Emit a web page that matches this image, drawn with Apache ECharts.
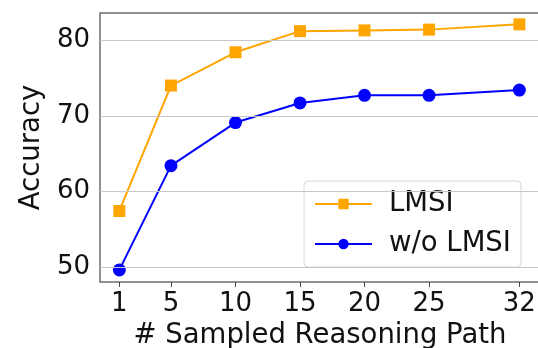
<!DOCTYPE html>
<html>
<head>
<meta charset="utf-8">
<script src="https://cdn.jsdelivr.net/npm/echarts@6/dist/echarts.min.js"></script>
<style>html,body{margin:0;padding:0;background:#fff;}#c{width:538px;height:348px;}</style>
</head>
<body>
<div id="c"></div>
<script>
var xTicks = [1, 5, 10, 15, 20, 25, 32];
var yTicks = [50, 60, 70, 80];
var seriesNames = ['LMSI', 'w/o LMSI'];
var lmsi = [57.4, 74.0, 78.4, 81.2, 81.3, 81.4, 82.1];
var woLmsi = [49.6, 63.4, 69.1, 71.7, 72.7, 72.7, 73.4];

function pairs(xs, ys) { return xs.map(function (x, i) { return [x, ys[i]]; }); }

var font = 'DejaVu Sans';
var chart = echarts.init(document.getElementById('c'), null, {renderer: 'canvas'});
chart.setOption({
  animation: false,
  backgroundColor: '#fff',
  textStyle: {fontFamily: font},
  grid: {left: 100, right: -2, top: 13, bottom: 66, show: true, borderColor: '#6e6e6e', borderWidth: 1.5,
         containLabel: false, outerBoundsMode: 'none'},
  xAxis: {
    type: 'value', min: -0.5, max: 33.6,
    name: '# Sampled Reasoning Path', nameLocation: 'middle', nameGap: 40,
    nameTextStyle: {fontSize: 27.5, color: '#111', fontFamily: font, verticalAlign: 'top'},
    axisLine: {show: false},
    axisTick: {show: true, customValues: xTicks, length: 5, lineStyle: {color: '#444', width: 1}},
    axisLabel: {customValues: xTicks, fontSize: 26, color: '#111', margin: 9, fontFamily: font},
    splitLine: {show: false}
  },
  yAxis: {
    type: 'value', min: 48, max: 83.6,
    name: 'Accuracy', nameLocation: 'middle', nameGap: 54,
    nameTextStyle: {fontSize: 27.5, color: '#111', fontFamily: font},
    axisLine: {show: false},
    axisTick: {show: true, customValues: yTicks, length: 5, lineStyle: {color: '#444', width: 1}},
    axisLabel: {customValues: yTicks, fontSize: 26, color: '#111', margin: 10, fontFamily: font},
    splitLine: {show: false}
  },
  legend: {
    left: 304, top: 181, width: 221, height: 88,
    orient: 'vertical',
    padding: [9, 10, 9, 10],
    itemWidth: 57, itemHeight: 13, itemGap: 12,
    borderColor: '#d8d8d8', borderWidth: 1, borderRadius: 4,
    backgroundColor: 'rgba(255,255,255,0.8)',
    textStyle: {fontSize: 27.5, color: '#111', fontFamily: font, padding: [0, 0, 0, 12]},
    data: seriesNames
  },
  series: [
    {
      type: 'line', name: '_grid', silent: true, z: 1, data: [],
      markLine: {
        silent: true, symbol: 'none', label: {show: false},
        lineStyle: {color: '#c8c8c8', type: 'solid', width: 1.2},
        data: yTicks.map(function (v) { return {yAxis: v}; })
      }
    },
    {
      type: 'line', name: seriesNames[0], z: 3,
      data: pairs(xTicks, lmsi),
      symbol: 'rect', symbolSize: 12,
      lineStyle: {color: '#FFA500', width: 2},
      itemStyle: {color: '#FFA500'}
    },
    {
      type: 'line', name: seriesNames[1], z: 4,
      data: pairs(xTicks, woLmsi),
      symbol: 'circle', symbolSize: 13,
      lineStyle: {color: '#0000FF', width: 2},
      itemStyle: {color: '#0000FF'}
    }
  ]
});
</script>
</body>
</html>
